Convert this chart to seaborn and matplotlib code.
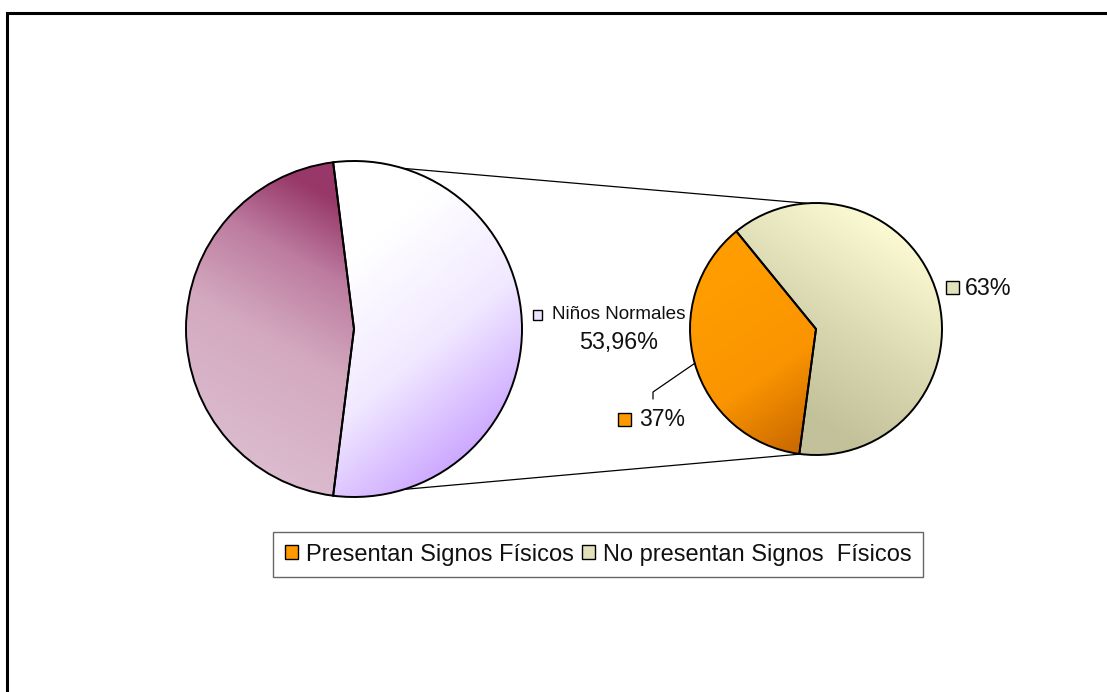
import numpy as np
import matplotlib
matplotlib.use("Agg")
import matplotlib.pyplot as plt
from matplotlib.colors import to_rgb
from matplotlib.patches import Rectangle, Patch
import seaborn as sns

# ---- data -------------------------------------------------------------
main_labels = ["Niños Normales", "Otros"]
main_values = [53.96, 46.04]
main_label_text = "53,96%"

sub_labels = ["Presentan Signos Físicos", "No presentan Signos  Físicos"]
sub_values = [37, 63]
sub_label_text = ["37%", "63%"]

# ---- style ------------------------------------------------------------
sns.set_theme(style="white")
plt.rcParams["font.family"] = ["Liberation Sans", "DejaVu Sans"]

W, H = 1107, 692
fig = plt.figure(figsize=(W / 100, H / 100), dpi=100)
ax = fig.add_axes([0, 0, 1, 1])
ax.set_xlim(0, W)
ax.set_ylim(0, H)
ax.set_aspect("equal")
ax.axis("off")


def py(y):
    """Convert a top-down pixel row into the upward y axis used here."""
    return H - y


def gradient_fill(wedge, center, radius, p0, p1, stops):
    """Paint a linear colour gradient inside a pie wedge."""
    cx, cy = center
    n = 400
    xs = np.linspace(cx - radius, cx + radius, n)
    ys = np.linspace(cy - radius, cy + radius, n)
    X, Y = np.meshgrid(xs, ys)
    x0, y0 = p0[0], py(p0[1])
    x1, y1 = p1[0], py(p1[1])
    dx, dy = x1 - x0, y1 - y0
    t = ((X - x0) * dx + (Y - y0) * dy) / (dx * dx + dy * dy)
    t = np.clip(t, 0, 1)
    pos = [s[0] for s in stops]
    cols = np.array([to_rgb(s[1]) for s in stops])
    img = np.zeros((n, n, 3))
    for k in range(3):
        img[..., k] = np.interp(t, pos, cols[:, k])
    im = ax.imshow(img, extent=(cx - radius, cx + radius, cy - radius, cy + radius),
                   origin="lower", zorder=2, interpolation="bilinear")
    im.set_clip_path(wedge)


# ---- main pie ---------------------------------------------------------
c_main = (354, py(329))
r_main = 168
start_main = -main_values[0] / 100 * 360 / 2
w_main, _ = ax.pie(main_values, center=c_main, radius=r_main,
                   startangle=start_main, counterclock=True,
                   colors=["white", "#c890b0"],
                   wedgeprops=dict(edgecolor="black", linewidth=1.4),
                   frame=True)
for w in w_main:
    w.set_facecolor("none")
    w.set_zorder(3)

gradient_fill(w_main[0], c_main, r_main, (350, 260), (500, 440),
              [(0, "#ffffff"), (0.5, "#f1e9ff"), (1, "#c9a2ff")])
gradient_fill(w_main[1], c_main, r_main, (200, 440), (335, 200),
              [(0, "#dcbccf"), (0.45, "#d3a9bf"), (0.75, "#bd7ca0"), (1, "#973869")])

# ---- secondary pie ----------------------------------------------------
c_sub = (816, py(329))
r_sub = 126
start_sub = 129.2
w_sub, _ = ax.pie(sub_values, center=c_sub, radius=r_sub,
                  startangle=start_sub, counterclock=True,
                  colors=["#ff9900", "#dcdcb4"],
                  wedgeprops=dict(edgecolor="black", linewidth=1.4),
                  frame=True)
for w in w_sub:
    w.set_facecolor("none")
    w.set_zorder(3)

gradient_fill(w_sub[0], c_sub, r_sub, (710, 300), (805, 440),
              [(0, "#ff9c00"), (0.55, "#fa9400"), (1, "#cc6c00")])
gradient_fill(w_sub[1], c_sub, r_sub, (815, 420), (925, 250),
              [(0, "#c2c19a"), (0.45, "#d9d8b0"), (1, "#fbfad2")])

ax.set_xlim(0, W)
ax.set_ylim(0, H)
ax.axis("off")


def rim(center, radius, angle):
    a = np.deg2rad(angle)
    return center[0] + radius * np.cos(a), center[1] + radius * np.sin(a)


# connector lines between the split slice and the secondary pie
split_top = start_main + main_values[0] / 100 * 360
split_bot = start_main
for a_main, a_sub in [(split_top, 94.0), (split_bot, 263.0)]:
    xa, ya = rim(c_main, r_main, a_main)
    xb, yb = rim(c_sub, r_sub, a_sub)
    ax.plot([xa, xb], [ya, yb], color="black", lw=0.9, zorder=1)

# ---- data labels ------------------------------------------------------
ax.add_patch(Rectangle((533, py(320)), 9, 10, facecolor="#ece4ff",
                       edgecolor="black", lw=1.0, zorder=4))
ax.text(552, py(319), main_labels[0], fontsize=13.6, ha="left", va="baseline",
        color="#111111", zorder=4)
ax.text(619, py(349), main_label_text, fontsize=16.8, ha="center", va="baseline",
        color="#111111", zorder=4)

# 37 % label with leader line
mid_orange = start_sub + sub_values[0] / 100 * 360 / 2
xe, ye = rim(c_sub, r_sub, mid_orange)
ax.plot([653, 653, xe], [py(399), py(392), ye], color="black", lw=0.9, zorder=4)
ax.add_patch(Rectangle((618, py(426)), 13, 13, facecolor="#ff9900",
                       edgecolor="black", lw=1.0, zorder=4))
ax.text(639, py(426), sub_label_text[0], fontsize=16.6, ha="left", va="baseline",
        color="#111111", zorder=4)

ax.add_patch(Rectangle((946, py(294)), 13, 13, facecolor="#e2e1bb",
                       edgecolor="black", lw=1.0, zorder=4))
ax.text(965, py(295), sub_label_text[1], fontsize=16.8, ha="left", va="baseline",
        color="#111111", zorder=4)

# ---- legend -----------------------------------------------------------
handles = [Patch(facecolor="#ff9900", edgecolor="black", lw=1.0),
           Patch(facecolor="#e2e1bb", edgecolor="black", lw=1.0)]
leg = ax.legend(handles, sub_labels, loc="center",
                bbox_to_anchor=(598 / W, 1 - 554.5 / H), ncol=2,
                fontsize=17, frameon=True, fancybox=False,
                handlelength=0.55, handleheight=0.55, handletextpad=0.35,
                columnspacing=0.33, borderpad=0.5, borderaxespad=0)
leg.get_frame().set_edgecolor("#404040")
leg.get_frame().set_linewidth(1.0)
for t in leg.get_texts():
    t.set_color("#111111")

# ---- outer chart border -----------------------------------------------
ax.add_patch(Rectangle((7, -200), 1400, py(13) + 200, facecolor="none",
                       edgecolor="black", lw=2.2, zorder=5))

fig.savefig("out.png", dpi=100)
